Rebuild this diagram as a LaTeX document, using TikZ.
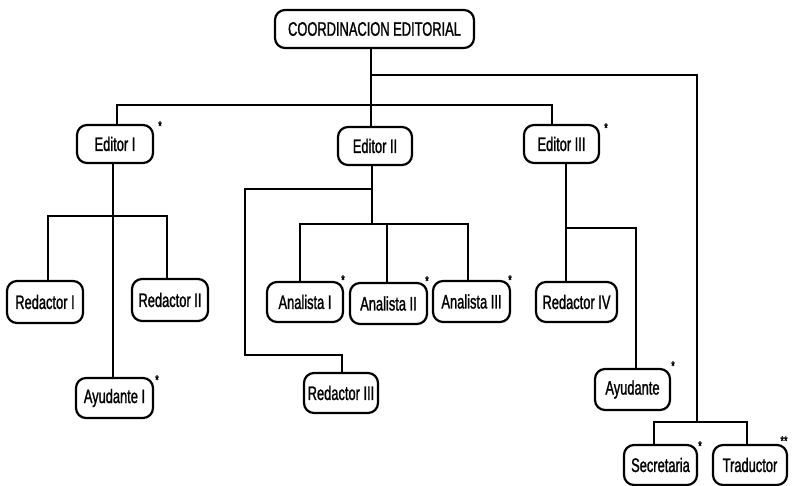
\documentclass[tikz,border=0pt]{standalone}
\usepackage{fontspec}
\setmainfont[FakeStretch=0.66,FakeBold=1.2]{Liberation Sans}
\usetikzlibrary{calc}
\begin{document}
\begin{tikzpicture}[x=1pt,y=-1pt,
  box/.style={draw, line width=2.2pt, rounded corners=10pt, inner sep=0pt,
    minimum height=40pt, minimum width=76pt, font=\fontsize{19.5}{21}\selectfont},
  conn/.style={line width=1.4pt},
  ast/.style={inner sep=0pt, font=\fontsize{14}{14}\selectfont}]
\useasboundingbox (0,0) rectangle (793,486);
% nodes
\node[box, minimum width=199pt, minimum height=38pt] (root) at (374.5,29) {COORDINACION EDITORIAL};
\node[box, minimum height=38pt] (e1) at (115,144) {Editor I};
\node[box, minimum width=74pt, minimum height=38pt] (e2) at (375,146) {Editor II};
\node[box, minimum width=75pt, minimum height=38pt] (e3) at (561.5,144) {Editor III};
\node[box, minimum height=42pt] (r1) at (45,302) {Redactor I};
\node[box, minimum height=42pt] (r2) at (170,300) {Redactor II};
\node[box, minimum width=77pt] (ay1) at (114.5,398) {Ayudante I};
\node[box] (a1) at (305,302) {Analista I};
\node[box, minimum width=77pt, minimum height=41pt] (a2) at (388.5,303.5) {Analista II};
\node[box, minimum width=77pt, minimum height=41pt] (a3) at (471.5,301.5) {Analista III};
\node[box, minimum width=74pt] (r3) at (341,393) {Redactor III};
\node[box, minimum width=81pt] (r4) at (576.5,302) {Redactor IV};
\node[box, minimum width=75pt, minimum height=41pt] (ay) at (632.5,389.5) {Ayudante};
\node[box, minimum width=73pt] (sec) at (660.5,465) {Secretaria};
\node[box, minimum width=74pt] (tra) at (750,465) {Traductor};
% stars
\node[ast] (s1) at (160,126) {*};
\node[ast] (s2) at (606,128) {*};
\node[ast] (s3) at (343,280) {*};
\node[ast] (s4) at (427,281) {*};
\node[ast] (s5) at (510,280) {*};
\node[ast] (s6) at (157,380) {*};
\node[ast] (s7) at (673,366) {*};
\node[ast] (s8) at (700,446) {*};
\node[ast] (s9) at (784,441) {**};
% connectors
\coordinate (rb) at (371,75);
\coordinate (lb) at (371,105);
\coordinate (sb) at (697,422);
\draw[conn] ([xshift=-3.5pt]root.south) -- ([xshift=-4pt]e2.north);
\draw[conn] ([xshift=2pt]e1.north) |- (lb) -| ([xshift=-9.5pt]e3.north);
\draw[conn] (rb) -| (sb);
\draw[conn] ([xshift=-6.5pt]sec.north) |- (sb) -| ([xshift=-3pt]tra.north);
% Editor I branch
\coordinate (b1) at (113,216);
\draw[conn] ([xshift=-2pt]e1.south) -- ([xshift=-1.5pt]ay1.north);
\draw[conn] ([xshift=3pt]r1.north) |- (b1) -| ([xshift=-3pt]r2.north);
% Editor II branch
\coordinate (b2) at (372,224);
\coordinate (b3) at (372,189);
\coordinate (b4) at (245,355);
\draw[conn] ([xshift=-3pt]e2.south) -- (b2);
\draw[conn] ([xshift=-5pt]a1.north) |- (b2) -| ([xshift=-3.5pt]a3.north);
\draw[conn] ([xshift=-1.5pt]a2.north) -- ([xshift=-1.5pt]a2.north |- b2);
\draw[conn] (b3) -| (b4) -| ([xshift=1pt]r3.north);
% Editor III branch
\coordinate (b5) at (566,228);
\draw[conn] ([xshift=4.5pt]e3.south) -- ([xshift=-10.5pt]r4.north);
\draw[conn] (b5) -| ([xshift=3.5pt]ay.north);
\end{tikzpicture}
\end{document}
